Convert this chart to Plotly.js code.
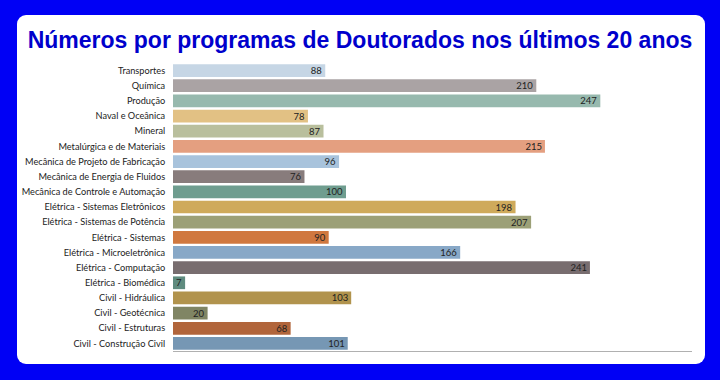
<!DOCTYPE html>
<html>
<head>
<meta charset="utf-8">
<script src="https://cdn.plot.ly/plotly-3.0.1.min.js"></script>
<style>
  html, body { margin: 0; padding: 0; width: 720px; height: 380px; overflow: hidden; background: #0000f5; }
  #card { position: absolute; left: 17px; top: 15px; width: 688px; height: 349px; background: #ffffff; border-radius: 9px; }
  #chart { position: absolute; left: 0; top: 0; width: 720px; height: 380px; }
</style>
</head>
<body>
<div id="card"></div>
<div id="chart"></div>
<script>
const categories = [
  "Transportes",
  "Química",
  "Produção",
  "Naval e Oceânica",
  "Mineral",
  "Metalúrgica e de Materiais",
  "Mecânica de Projeto de Fabricação",
  "Mecânica de Energia de Fluidos",
  "Mecânica de Controle e Automação",
  "Elétrica - Sistemas Eletrônicos",
  "Elétrica - Sistemas de Potência",
  "Elétrica - Sistemas",
  "Elétrica - Microeletrônica",
  "Elétrica - Computação",
  "Elétrica - Biomédica",
  "Civil - Hidráulica",
  "Civil - Geotécnica",
  "Civil - Estruturas",
  "Civil - Construção Civil"
];
const values = [88, 210, 247, 78, 87, 215, 96, 76, 100, 198, 207, 90, 166, 241, 7, 103, 20, 68, 101];
const barColors = [
  "#c6d6e5", "#aaa3a4", "#97b9ae", "#e2c184", "#b9bf9d", "#e49f80",
  "#a8c3dc", "#887c7c", "#6f9d8f", "#cfaa5b", "#9ca077", "#d0783f",
  "#88a8c7", "#786d6f", "#5f8b7f", "#b1934d", "#808564", "#b1653b", "#7697b4"
];

const trace = {
  type: "bar",
  orientation: "h",
  y: categories,
  x: values,
  text: values.map(String),
  textposition: "inside",
  insidetextanchor: "end",
  constraintext: "none",
  textfont: { family: "Lato, sans-serif", size: 9.5, color: "#222222" },
  marker: { color: barColors, line: { width: 0 } },
  hoverinfo: "none"
};

const layout = {
  width: 720,
  height: 380,
  margin: { l: 173, r: 28, t: 63, b: 29, pad: 0 },
  paper_bgcolor: "rgba(0,0,0,0)",
  plot_bgcolor: "rgba(0,0,0,0)",
  bargap: 0.16,
  showlegend: false,
  title: {
    text: "<b>Números por programas de Doutorados nos últimos 20 anos</b>",
    font: { family: "Liberation Sans, Arial, sans-serif", size: 23, color: "#0000cc" },
    x: 0.5, xanchor: "center", xref: "container", y: 0.895, yanchor: "middle", yref: "container"
  },
  xaxis: {
    range: [0, 300],
    showgrid: false,
    zeroline: false,
    showticklabels: false,
    ticks: "",
    showline: true,
    linecolor: "#b0b0b0",
    linewidth: 1,
    fixedrange: true
  },
  yaxis: {
    autorange: "reversed",
    showgrid: false,
    zeroline: false,
    ticks: "outside",
    ticklen: 5,
    tickcolor: "rgba(0,0,0,0)",
    tickfont: { family: "Lato, sans-serif", size: 9.2, color: "#222222" },
    showline: false,
    fixedrange: true
  }
};

Plotly.newPlot("chart", [trace], layout, { displayModeBar: false, staticPlot: true });
</script>
</body>
</html>
